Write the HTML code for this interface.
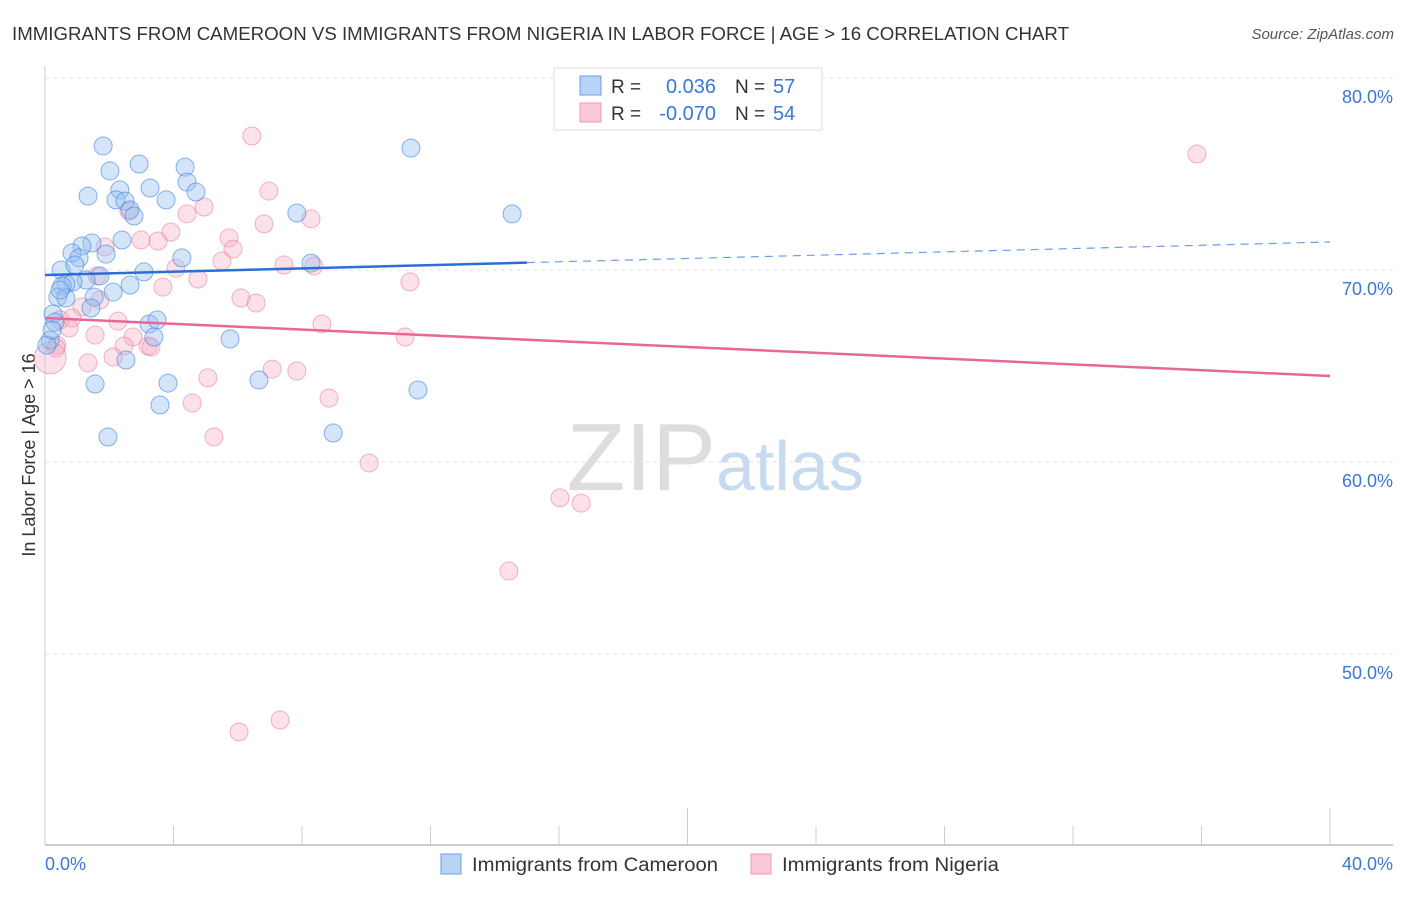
<!DOCTYPE html>
<html><head><meta charset="utf-8"><style>
body{margin:0;background:#fff;font-family:"Liberation Sans",sans-serif;}
svg text{font-family:"Liberation Sans",sans-serif;}
</style></head><body>
<svg id="chart" width="1406" height="892" viewBox="0 0 1406 892">
<text x="12" y="40" font-size="18" fill="#333" textLength="1057" lengthAdjust="spacingAndGlyphs">IMMIGRANTS FROM CAMEROON VS IMMIGRANTS FROM NIGERIA IN LABOR FORCE | AGE &gt; 16 CORRELATION CHART</text>
<text x="1394" y="39" font-size="15" fill="#555" font-style="italic" text-anchor="end">Source: ZipAtlas.com</text>
<text x="35" y="455" font-size="18" fill="#333" text-anchor="middle" transform="rotate(-90 35 455)">In Labor Force | Age &gt; 16</text>
<g id="grid"></g>
<g id="axes"></g>
<text x="716" y="490" font-size="96" fill="#ddd" font-family="Liberation Serif" text-anchor="end">ZIP</text>
<text x="716" y="490" font-size="70" fill="#c8daf0">atlas</text>
<g id="pts"></g>
<g id="trends"></g>
<g>
<rect x="554" y="68" width="268" height="62" fill="#fff" stroke="#ddd"/>
<rect x="580" y="76" width="21" height="19" fill="#b7d3f6" stroke="#6c9ee6"/>
<rect x="580" y="103" width="21" height="19" fill="#fbc8d8" stroke="#ee9ab4"/>
<text x="611" y="93" font-size="19" fill="#333">R =</text>
<text x="716" y="93" font-size="20" fill="#3a78d4" text-anchor="end">0.036</text>
<text x="735" y="93" font-size="19" fill="#333">N =</text>
<text x="773" y="93" font-size="20" fill="#3a78d4">57</text>
<text x="611" y="120" font-size="19" fill="#333">R =</text>
<text x="716" y="120" font-size="20" fill="#3a78d4" text-anchor="end">-0.070</text>
<text x="735" y="120" font-size="19" fill="#333">N =</text>
<text x="773" y="120" font-size="20" fill="#3a78d4">54</text>
</g>
<g>
<rect x="441" y="854" width="20" height="20" fill="#b7d3f6" stroke="#6c9ee6"/>
<text x="472" y="871" font-size="19" fill="#333" textLength="246" lengthAdjust="spacingAndGlyphs">Immigrants from Cameroon</text>
<rect x="751" y="854" width="20" height="20" fill="#fbc8d8" stroke="#ee9ab4"/>
<text x="782" y="871" font-size="19" fill="#333" textLength="217" lengthAdjust="spacingAndGlyphs">Immigrants from Nigeria</text>
</g>
</svg>
<script>
const blueX=[1.81,2.02,2.93,4.36,4.42,4.70,3.27,2.33,1.34,2.21,2.49,3.77,2.65,2.77,7.84,11.39,14.54,2.40,1.46,1.15,0.84,1.90,1.06,0.50,3.08,4.26,8.28,1.71,1.28,0.87,0.65,0.53,2.12,1.53,0.40,0.65,1.43,0.25,0.31,3.24,3.49,3.39,2.52,5.76,1.56,3.83,6.66,11.61,3.58,1.96,8.97,0.16,0.06,0.22,0.47,2.65,0.93];
const blueY=[76.46,75.16,75.52,75.36,74.58,74.06,74.27,74.17,73.85,73.65,73.59,73.65,73.13,72.81,72.97,76.35,72.92,71.56,71.41,71.25,70.89,70.83,70.63,70.00,69.90,70.63,70.36,69.69,69.48,69.38,69.27,69.17,68.85,68.59,68.59,68.54,68.02,67.71,67.29,67.19,67.40,66.51,65.31,66.41,64.06,64.11,64.27,63.75,62.97,61.30,61.51,66.35,66.09,66.88,68.96,69.22,70.26];
const pinkX=[6.44,35.86,6.97,4.95,4.42,2.61,8.28,6.82,3.92,5.73,2.99,3.52,5.85,1.87,5.51,7.44,8.37,4.08,1.62,4.76,11.36,3.67,6.10,6.57,1.15,0.47,0.84,0.75,8.62,2.27,11.21,1.56,2.74,3.21,3.30,2.46,2.12,1.34,7.07,7.84,5.07,8.84,4.58,5.26,10.09,16.03,16.69,14.44,7.32,6.04,0.37,0.16,0.34,1.71];
const pinkY=[76.98,76.04,74.11,73.28,72.92,73.07,72.66,72.40,71.98,71.67,71.56,71.51,71.09,71.20,70.47,70.26,70.21,70.10,69.69,69.53,69.38,69.11,68.54,68.28,68.07,67.40,67.50,66.98,67.19,67.34,66.51,66.61,66.51,66.04,65.99,66.04,65.47,65.16,64.84,64.74,64.38,63.33,63.07,61.30,59.95,58.13,57.86,54.32,46.56,45.94,66.09,65.42,65.94,68.44];
const blueTrend=[69.74,71.46]; const blueSolidEnd=15.0;
const pinkTrend=[67.50,64.48];
const yTicks=[80,70,60,50];
const xTickLabels=["0.0%","40.0%"];
const NS="http://www.w3.org/2000/svg";
const X0=45,X1=1330,Y0=78;
function sx(v){return X0+(v/40)*(X1-X0);}
function sy(v){return Y0+(80-v)*19.2;}
function mk(tag,attrs,parent){const e=document.createElementNS(NS,tag);for(const k in attrs)e.setAttribute(k,attrs[k]);parent.appendChild(e);return e;}
const grid=document.getElementById('grid'),axes=document.getElementById('axes'),pts=document.getElementById('pts'),tr=document.getElementById('trends');
yTicks.forEach(t=>{
 const l=mk('line',{x1:X0,x2:1393,y1:sy(t),y2:sy(t),stroke:'#e2e2e2','stroke-dasharray':'4,4'},grid);
 
 
 const tx=mk('text',{x:1393,y:sy(t)+25,'font-size':18,fill:'#3a78d4','text-anchor':'end'},axes);
 tx.textContent=t.toFixed(1)+'%';
 
 
});
mk('line',{x1:X0,x2:X0,y1:66,y2:845,stroke:'#ccc'},axes);
mk('line',{x1:X0,x2:1393,y1:845,y2:845,stroke:'#bbb','stroke-width':1.5},axes);
for(let i=0;i<=10;i++){const x=sx(i*4);const tall=(i==5||i==10);
 const tk=mk('line',{x1:x,x2:x,y1:tall?808:826,y2:845,stroke:'#ccc'},axes);
 
 }
const l0=mk('text',{x:45,y:870,'font-size':18,fill:'#3a78d4'},axes);l0.textContent=xTickLabels[0];


const l1=mk('text',{x:1393,y:870,'font-size':18,fill:'#3a78d4','text-anchor':'end'},axes);l1.textContent=xTickLabels[1];


function draw(xs,ys,fill,stroke,name){xs.forEach((x,i)=>{
 const big=(x<0.2&&name=='pink-point')?16:9;
 const c=mk('circle',{cx:sx(x),cy:sy(ys[i]),r:big,fill:fill,stroke:stroke,'stroke-width':1},pts);
 
 });}
draw(pinkX,pinkY,'rgba(246,170,195,0.35)','rgba(230,120,155,0.55)','pink-point');
draw(blueX,blueY,'rgba(150,190,240,0.4)','rgba(60,130,220,0.6)','blue-point');
function ty(tv,x){return tv[0]+(tv[1]-tv[0])*x/40;}
const b1=mk('line',{x1:sx(0),y1:sy(ty(blueTrend,0)),x2:sx(blueSolidEnd),y2:sy(ty(blueTrend,blueSolidEnd)),stroke:'#2a6fd6','stroke-width':2.5},tr);


const b2=mk('line',{x1:sx(blueSolidEnd),y1:sy(ty(blueTrend,blueSolidEnd)),x2:sx(40),y2:sy(ty(blueTrend,40)),stroke:'#6c9ee6','stroke-width':1.2,'stroke-dasharray':'8,6'},tr);


const p1=mk('line',{x1:sx(0),y1:sy(ty(pinkTrend,0)),x2:sx(40),y2:sy(ty(pinkTrend,40)),stroke:'#e8679a','stroke-width':2.5},tr);


</script>
</body></html>
